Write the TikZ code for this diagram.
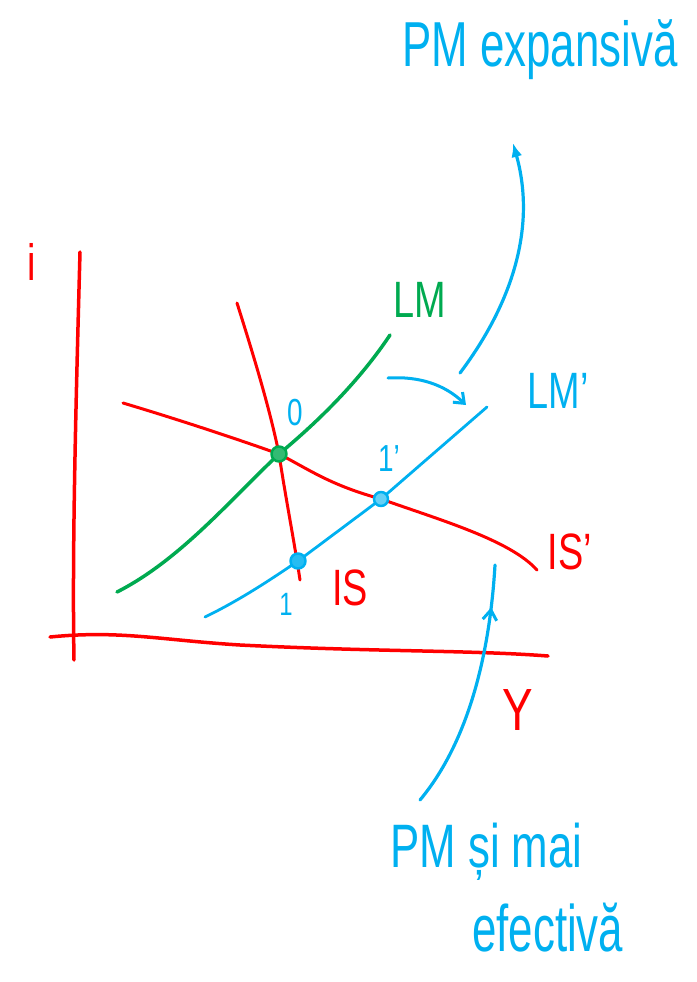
\documentclass[tikz,border=0pt]{standalone}
\usepackage{fontspec}
\setmainfont{Liberation Sans}
\usetikzlibrary{arrows.meta,decorations.markings}
\definecolor{hred}{RGB}{255,0,0}
\definecolor{hblue}{RGB}{0,176,240}
\definecolor{hgreen}{RGB}{0,170,80}
\newcommand{\tallt}[2][1.35]{\scalebox{1}[#1]{#2}}
\begin{document}
\begin{tikzpicture}[x=1bp,y=-1bp,line cap=round,line join=round,
  axis/.style={draw=hred,line width=3.5bp},
  redcurve/.style={draw=hred,line width=3bp},
  greencurve/.style={draw=hgreen,line width=3.5bp},
  bluecurve/.style={draw=hblue,line width=2.8bp},
  bluearrow/.style={draw=hblue,line width=3.2bp},
  pt/.style={circle,inner sep=0pt,minimum size=15bp,line width=2.5bp},
  lbl/.style={inner sep=0pt,font=\fontsize{38}{42}\selectfont},
  small/.style={inner sep=0pt,font=\fontsize{28}{32}\selectfont}]
\useasboundingbox (0,0) rectangle (697,982);
% axes
\coordinate (yaxT) at (80,252);
\coordinate (yaxB) at (74,660);
\coordinate (xaxL) at (50,637);
\coordinate (xaxR) at (548,656);
\draw[axis] (yaxT) .. controls (76,400) and (72,550) .. (yaxB);
\draw[axis] (xaxL) .. controls (120,630) and (160,640) .. (240,645) .. controls (380,652) and (470,650) .. (xaxR);
\node[lbl,text=hred] (ilab) at (32,262) {\tallt{i}};
\node[lbl,text=hred,font=\fontsize{46}{50}\selectfont] (Ylab) at (518,710) {\tallt[1.3]{Y}};
% IS curves
\coordinate (isT) at (237,303);
\coordinate (isB) at (300,580);
\coordinate (E0) at (279,454);
\coordinate (ispL) at (123,403);
\coordinate (ispR) at (537,570);
\coordinate (E1p) at (381,499);
\coordinate (E1) at (298,561);
\draw[redcurve] (isT) .. controls (255,360) and (270,410) .. (E0) .. controls (286,500) and (294,540) .. (isB);
\draw[redcurve] (ispL) .. controls (180,420) and (240,440) .. (E0) .. controls (310,470) and (330,485) .. (E1p) .. controls (440,520) and (510,540) .. (ispR);
% LM
\coordinate (lmB) at (117,592);
\coordinate (lmT) at (390,335);
\draw[greencurve] (lmB) .. controls (180,560) and (230,500) .. (E0) .. controls (320,420) and (360,380) .. (lmT);
% LM'
\coordinate (lmpB) at (205,617);
\coordinate (lmpT) at (487,407);
\draw[bluecurve] (lmpB) .. controls (240,600) and (270,580) .. (E1) -- (E1p) -- (lmpT);
% points
\node[pt,draw=hgreen,fill=hgreen!80] (p0) at (E0) {};
\node[pt,draw=hblue,fill=hblue!85] (p1) at (E1) {};
\node[pt,draw=hblue,fill=hblue!60,minimum size=14bp] (p1p) at (E1p) {};
% labels
\node[small,text=hblue] (l0) at (295,413) {\tallt{0}};
\node[small,text=hblue] (l1p) at (389,459) {\tallt{1'}};
\node[small,text=hblue,font=\fontsize{24}{28}\selectfont] (l1) at (286,604) {\tallt{1}};
\node[lbl,text=hred] (lIS) at (350,588) {\tallt{IS}};
\node[lbl,text=hred] (lISp) at (570,552) {\tallt{IS'}};
\node[lbl,text=hgreen] (lLM) at (420,300) {\tallt{LM}};
\node[lbl,text=hblue] (lLMp) at (558,391) {\tallt{LM'}};
% shift arrow LM -> LM'
\coordinate (shS) at (388,378);
\coordinate (shE) at (466,405);
\draw[bluecurve,line width=3bp,-{Straight Barb[length=9bp,width=14bp,line width=3bp]}] (shS) .. controls (420,376) and (445,385) .. (shE);
% texts
\node[lbl,text=hblue,font=\fontsize{44}{48}\selectfont,anchor=west] (pmexp) at (402,50) {\tallt[1.45]{PM expansivă}};
\node[lbl,text=hblue,font=\fontsize{44}{48}\selectfont,anchor=west] (pmef1) at (390,852) {\tallt[1.4]{PM și mai}};
\node[lbl,text=hblue,font=\fontsize{44}{48}\selectfont,anchor=west] (pmef2) at (472,928) {\tallt[1.5]{efectivă}};
% arrow to PM expansiva
\coordinate (upS) at (460,373);
\coordinate (upE) at (513,143);
\draw[bluearrow,-{Latex[length=14bp,width=11bp]}] (upS) .. controls (500,320) and (540,240) .. (upE);
% arrow from PM si mai efectiva
\coordinate (dnS) at (420,800);
\coordinate (dnE) at (495,565);
\draw[bluearrow,postaction={decorate},decoration={markings,mark=at position 0.83 with {\arrow{Straight Barb[length=10bp,width=14bp,line width=3bp]}}}] (dnS) .. controls (470,740) and (490,650) .. (dnE);
\end{tikzpicture}
\end{document}
